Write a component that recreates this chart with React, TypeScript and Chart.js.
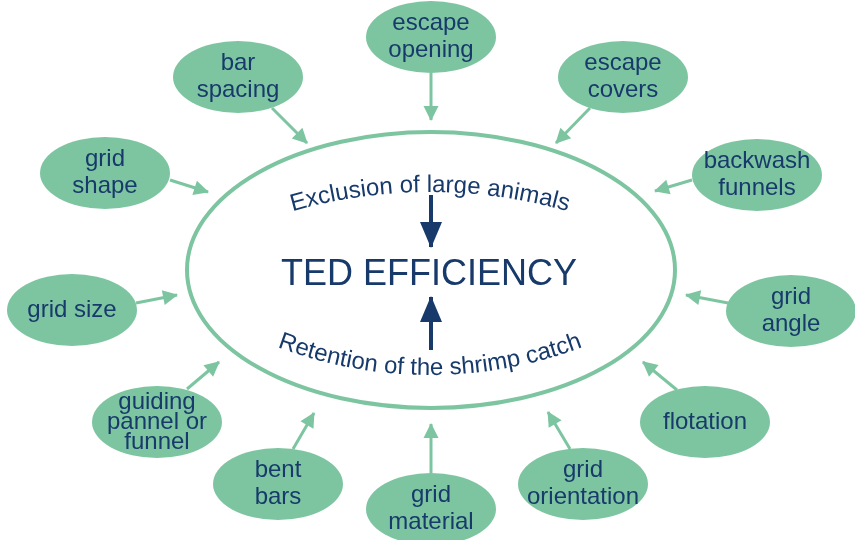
import React, { useEffect, useRef } from "react";
import { Chart, registerables } from "chart.js";

Chart.register(...registerables);

// ---- data ----
const nodeLabels = [
  "escape\nopening",
  "bar\nspacing",
  "escape\ncovers",
  "grid\nshape",
  "backwash\nfunnels",
  "grid size",
  "grid\nangle",
  "guiding\npannel or\nfunnel",
  "flotation",
  "bent\nbars",
  "grid\nmaterial",
  "grid\norientation",
];
const nodeX = [431, 238, 623, 105, 757, 72, 791, 157, 705, 278, 431, 583];
const nodeY = [37, 77, 77, 173, 175, 310, 311, 422, 422, 484, 509, 484];

const arrowStartX = [431, 272, 590, 170, 692, 136, 728, 187, 677, 570, 293, 431];
const arrowStartY = [73, 108, 108, 180, 180, 303, 303, 389, 390, 449, 449, 473];
const arrowEndX = [431, 307, 556, 208, 655, 177, 686, 219, 643, 548, 314, 431];
const arrowEndY = [120, 143, 143, 192, 191, 295, 295, 362, 362, 412, 413, 424];

const hubLabel = "TED EFFICIENCY";
const hubX = [431];
const hubY = [270];
const topArcLabel = "Exclusion of large animals";
const bottomArcLabel = "Retention of the shrimp catch";
const innerArrowStartY = [195, 350];
const innerArrowEndY = [247, 297];
const innerArrowX = [431, 431];

// ---- styles ----
const GREEN = "#7dc5a0";
const BLUE = "#173a6b";
const FONT = "'Liberation Sans', Arial, sans-serif";
const NODE_RX = 65;
const NODE_RY = 36;
const HUB_RX = 244;
const HUB_RY = 138;

function drawHead(ctx: CanvasRenderingContext2D, a: any, b: any, len: number, halfW: number, color: string) {
  const ang = Math.atan2(b.y - a.y, b.x - a.x);
  ctx.save();
  ctx.translate(b.x, b.y);
  ctx.rotate(ang);
  ctx.beginPath();
  ctx.moveTo(1, 0);
  ctx.lineTo(-len, -halfW);
  ctx.lineTo(-len, halfW);
  ctx.closePath();
  ctx.fillStyle = color;
  ctx.fill();
  ctx.restore();
}

function arcText(
  ctx: CanvasRenderingContext2D,
  text: string,
  cx: number,
  cy: number,
  r: number,
  top: boolean
) {
  const widths = Array.from(text).map((c) => ctx.measureText(c).width);
  const total = widths.reduce((s, w) => s + w, 0);
  const span = total / r;
  let acc = 0;
  Array.from(text).forEach((c, i) => {
    const w = widths[i];
    const mid = (acc + w / 2) / r;
    let th: number, rot: number;
    if (top) {
      th = -Math.PI / 2 - span / 2 + mid;
      rot = th + Math.PI / 2;
    } else {
      th = Math.PI / 2 + span / 2 - mid;
      rot = th - Math.PI / 2;
    }
    const px = cx + r * Math.cos(th);
    const py = cy + r * Math.sin(th);
    ctx.save();
    ctx.translate(px, py);
    ctx.rotate(rot);
    ctx.fillText(c, 0, 0);
    ctx.restore();
    acc += w;
  });
}

const diagramPlugin = {
  id: "diagram",
  beforeDatasetsDraw(chart: any) {
    const { ctx, scales } = chart;
    const xs = scales.x;
    const ys = scales.y;
    const p = chart.getDatasetMeta(0).data[0];
    const rx = Math.abs(xs.getPixelForValue(hubX[0] + HUB_RX) - p.x);
    const ry = Math.abs(ys.getPixelForValue(hubY[0] + HUB_RY) - p.y);
    ctx.save();
    ctx.beginPath();
    ctx.ellipse(p.x, p.y, rx, ry, 0, 0, Math.PI * 2);
    ctx.fillStyle = "#ffffff";
    ctx.fill();
    ctx.lineWidth = 4;
    ctx.strokeStyle = GREEN;
    ctx.stroke();

    // hub texts
    ctx.fillStyle = BLUE;
    ctx.textAlign = "center";
    ctx.textBaseline = "alphabetic";
    ctx.font = `36px ${FONT}`;
    ctx.fillText(hubLabel, p.x - 2, p.y + 15);
    ctx.font = `24px ${FONT}`;
    const cx = xs.getPixelForValue(430);
    arcText(ctx, topArcLabel, cx, ys.getPixelForValue(192 + 500), 500, true);
    arcText(ctx, bottomArcLabel, cx, ys.getPixelForValue(375 - 430), 430, false);
    ctx.restore();
  },
  afterDatasetsDraw(chart: any) {
    const { ctx, scales } = chart;
    const xs = scales.x;
    const ys = scales.y;
    chart.data.datasets.forEach((ds: any, i: number) => {
      if (!ds.arrowHead) return;
      const meta = chart.getDatasetMeta(i);
      drawHead(ctx, meta.data[0], meta.data[1], ds.arrowHead[0], ds.arrowHead[1], ds.borderColor);
    });
    const meta = chart.getDatasetMeta(1);
    meta.data.forEach((pt: any, i: number) => {
      const rx = Math.abs(xs.getPixelForValue(nodeX[i] + NODE_RX) - pt.x);
      const ry = Math.abs(ys.getPixelForValue(nodeY[i] + NODE_RY) - pt.y);
      ctx.save();
      ctx.beginPath();
      ctx.ellipse(pt.x, pt.y, rx, ry, 0, 0, Math.PI * 2);
      ctx.fillStyle = GREEN;
      ctx.fill();
      const lines = nodeLabels[i].split("\n");
      const lh = lines.length > 2 ? 20 : 26.5;
      ctx.fillStyle = BLUE;
      ctx.font = `24px ${FONT}`;
      ctx.textAlign = "center";
      ctx.textBaseline = "alphabetic";
      lines.forEach((ln, j) => {
        const yy = pt.y + (j - (lines.length - 1) / 2) * lh + 6.5;
        ctx.fillText(ln, pt.x, yy);
      });
      ctx.restore();
    });
  },
};

export default function App() {
  const ref = useRef<HTMLCanvasElement | null>(null);
  useEffect(() => {
    document.body.style.margin = "0";
    if (!ref.current) return;
    const arrowSets: any[] = arrowStartX.map((sx, i) => ({
      data: [
        { x: sx, y: arrowStartY[i] },
        { x: arrowEndX[i], y: arrowEndY[i] },
      ],
      showLine: true,
      borderColor: GREEN,
      borderWidth: 3,
      pointRadius: 0,
      arrowHead: [14, 7.5],
    }));
    const innerSets: any[] = innerArrowX.map((ix, i) => ({
      data: [
        { x: ix, y: innerArrowStartY[i] },
        { x: ix, y: innerArrowEndY[i] },
      ],
      showLine: true,
      borderColor: BLUE,
      borderWidth: 4,
      pointRadius: 0,
      arrowHead: [25, 11],
    }));
    const chart = new Chart(ref.current, {
      type: "scatter",
      data: {
        datasets: [
          { data: hubX.map((x, i) => ({ x, y: hubY[i] })), pointRadius: 0 },
          { data: nodeX.map((x, i) => ({ x, y: nodeY[i] })), pointRadius: 0 },
          ...arrowSets,
          ...innerSets,
        ],
      },
      options: {
        animation: false,
        responsive: true,
        maintainAspectRatio: false,
        events: [],
        layout: { padding: 0 },
        plugins: { legend: { display: false }, tooltip: { enabled: false } },
        scales: {
          x: { type: "linear", min: 0, max: 855, display: false },
          y: { type: "linear", min: 0, max: 540, reverse: true, display: false },
        },
      },
      plugins: [diagramPlugin],
    } as any);
    return () => chart.destroy();
  }, []);
  return (
    <div style={{ position: "relative", width: 855, height: 540, background: "#fff" }}>
      <canvas ref={ref} />
    </div>
  );
}
